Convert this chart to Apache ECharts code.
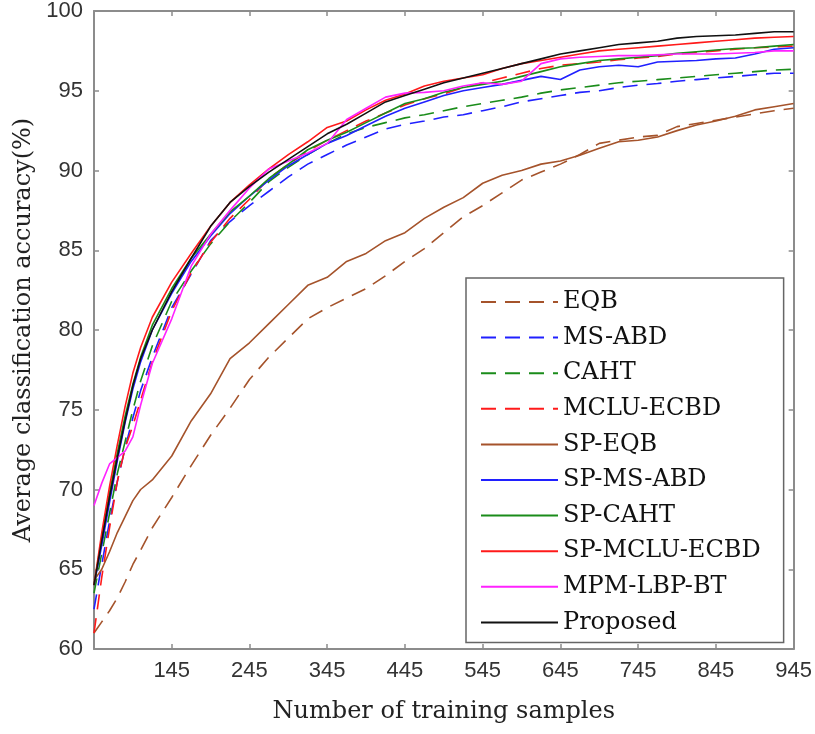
<!DOCTYPE html>
<html>
<head>
<meta charset="utf-8">
<title>Average classification accuracy</title>
<script src="https://cdn.jsdelivr.net/npm/echarts@6/dist/echarts.min.js"></script>
<style>
  html, body { margin: 0; padding: 0; background: #fff; }
  #main { width: 815px; height: 734px; }
</style>
</head>
<body>
<div id="main"></div>
<script>
// number of training samples
var samples = [45, 55, 65, 75, 85, 95, 105, 120, 145, 170, 195, 220, 245, 270, 295, 320, 345, 370, 395, 420,
               445, 470, 495, 520, 545, 570, 595, 620, 645, 670, 695, 720, 745, 770, 795, 820, 845, 870, 895, 920, 945];

var eqb = [61.0, 61.7, 62.4, 63.2, 64.2, 65.3, 66.2, 67.6, 69.5, 71.5, 73.4, 75.1, 76.9, 78.3, 79.5, 80.7, 81.4, 82.0, 82.6, 83.4,
           84.3, 85.1, 86.1, 87.1, 87.8, 88.6, 89.4, 89.9, 90.4, 91.0, 91.7, 91.9, 92.1, 92.2, 92.75, 92.95, 93.15, 93.35, 93.55, 93.75, 93.9];
var msAbd = [62.5, 65.3, 68.0, 70.5, 72.6, 74.5, 76.2, 78.3, 81.4, 83.5, 85.6, 86.8, 87.8, 88.7, 89.6, 90.4, 91.0, 91.6, 92.1, 92.6,
             92.9, 93.1, 93.35, 93.5, 93.75, 94.0, 94.3, 94.5, 94.7, 94.9, 95.0, 95.2, 95.35, 95.45, 95.6, 95.7, 95.8, 95.9, 96.0, 96.1, 96.1];
var caht = [63.5, 66.0, 68.5, 71.0, 73.0, 75.0, 76.8, 79.0, 81.8, 83.7, 85.4, 86.8, 88.0, 89.3, 90.2, 91.0, 91.7, 92.3, 92.7, 93.0,
            93.3, 93.5, 93.75, 94.0, 94.2, 94.4, 94.6, 94.85, 95.05, 95.2, 95.35, 95.5, 95.6, 95.7, 95.8, 95.9, 96.0, 96.1, 96.2, 96.3, 96.35];
var mcluEcbd = [61.0, 64.5, 67.6, 70.5, 72.6, 74.0, 75.6, 78.0, 81.2, 83.6, 85.5, 87.0, 88.2, 89.5, 90.4, 91.2, 91.9, 92.5, 93.1, 93.6,
                94.1, 94.5, 94.8, 95.2, 95.5, 95.8, 96.1, 96.4, 96.6, 96.7, 96.8, 96.95, 97.05, 97.15, 97.3, 97.4, 97.5, 97.6, 97.7, 97.75, 97.8];
var spEqb = [64.3, 65.0, 66.1, 67.3, 68.3, 69.3, 70.0, 70.6, 72.1, 74.3, 76.0, 78.2, 79.2, 80.4, 81.6, 82.8, 83.3, 84.3, 84.8, 85.6,
             86.1, 87.0, 87.7, 88.3, 89.2, 89.7, 90.0, 90.4, 90.6, 90.95, 91.4, 91.8, 91.9, 92.1, 92.5, 92.85, 93.1, 93.4, 93.8, 94.0, 94.2];
var spMsAbd = [64.0, 66.5, 69.2, 71.8, 74.2, 76.3, 78.0, 80.0, 82.3, 84.3, 85.9, 87.3, 88.4, 89.4, 90.3, 91.0, 91.7, 92.2, 92.8, 93.4,
               93.9, 94.3, 94.7, 95.0, 95.2, 95.4, 95.65, 95.9, 95.7, 96.3, 96.5, 96.6, 96.5, 96.8, 96.85, 96.9, 97.0, 97.05, 97.3, 97.6, 97.7];
var spCaht = [64.0, 67.0, 69.8, 72.3, 74.6, 76.6, 78.3, 80.3, 82.6, 84.5, 86.0, 87.4, 88.4, 89.5, 90.4, 91.3, 91.9, 92.4, 93.0, 93.6,
              94.2, 94.5, 94.9, 95.2, 95.4, 95.6, 95.9, 96.2, 96.5, 96.7, 96.9, 97.0, 97.1, 97.2, 97.35, 97.45, 97.55, 97.65, 97.7, 97.8, 97.9];
var spMcluEcbd = [64.0, 67.3, 70.2, 72.8, 75.2, 77.3, 78.9, 80.8, 83.0, 84.8, 86.5, 88.0, 89.1, 90.1, 91.0, 91.8, 92.7, 93.1, 93.8, 94.4,
                  94.8, 95.3, 95.6, 95.8, 96.0, 96.4, 96.7, 96.9, 97.1, 97.3, 97.5, 97.6, 97.7, 97.8, 97.9, 98.0, 98.1, 98.2, 98.3, 98.35, 98.4];
var mpmLbpBt = [69.0, 70.4, 71.6, 72.0, 72.4, 73.3, 75.3, 77.9, 80.7, 84.0, 86.0, 87.5, 88.9, 90.1, 90.6, 91.1, 91.7, 93.2, 93.9, 94.6,
                94.85, 94.9, 95.0, 95.3, 95.5, 95.4, 95.6, 96.7, 97.0, 97.1, 97.15, 97.2, 97.2, 97.25, 97.3, 97.3, 97.3, 97.35, 97.4, 97.5, 97.5];
var proposed = [64.0, 66.8, 69.5, 72.0, 74.3, 76.5, 78.2, 80.0, 82.4, 84.5, 86.5, 88.0, 89.0, 89.9, 90.7, 91.5, 92.3, 92.9, 93.6, 94.3,
                94.7, 95.1, 95.5, 95.8, 96.1, 96.4, 96.7, 97.0, 97.3, 97.5, 97.7, 97.9, 98.0, 98.1, 98.3, 98.4, 98.45, 98.5, 98.6, 98.7, 98.7];

var names = ['EQB', 'MS-ABD', 'CAHT', 'MCLU-ECBD', 'SP-EQB', 'SP-MS-ABD', 'SP-CAHT', 'SP-MCLU-ECBD', 'MPM-LBP-BT', 'Proposed'];
var values = [eqb, msAbd, caht, mcluEcbd, spEqb, spMsAbd, spCaht, spMcluEcbd, mpmLbpBt, proposed];
var colors = ['#a5532b', '#2020ff', '#1a8c1a', '#ff1a1a', '#a5532b', '#2020ff', '#1a8c1a', '#ff1a1a', '#ff22ff', '#111111'];
var dashed = [true, true, true, true, false, false, false, false, false, false];

var axisGray = '#8c8c8c';
var serif = '"DejaVu Serif", serif';
var sans = '"Liberation Sans", Arial, sans-serif';

var series = [];
for (var i = 0; i < names.length; i++) {
    var pts = [];
    for (var j = 0; j < samples.length; j++) {
        pts.push([samples[j], values[i][j]]);
    }
    series.push({
        name: names[i],
        type: 'line',
        data: pts,
        symbol: 'none',
        smooth: false,
        lineStyle: {
            color: colors[i],
            width: 1.6,
            type: dashed[i] ? [15, 9] : 'solid'
        },
        itemStyle: { color: colors[i] }
    });
}

var chart = echarts.init(document.getElementById('main'));
var option = {
    animation: false,
    backgroundColor: '#fff',
    grid: { left: 94, right: 21, top: 10, bottom: 85, containLabel: false },
    legend: {
        orient: 'vertical',
        left: 466,
        top: 278,
        data: names,
        itemWidth: 77,
        itemHeight: 14,
        itemGap: 11.6,
        padding: [12, 23, 8, 14],
        backgroundColor: '#fff',
        borderColor: '#666',
        borderWidth: 1.5,
        selectedMode: false,
        itemStyle: { opacity: 0 },
        lineStyle: { width: 2 },
        textStyle: { fontFamily: serif, fontSize: 24, color: '#111', lineHeight: 24 }
    },
    xAxis: [{
        type: 'value',
        min: 45,
        max: 945,
        interval: 100,
        name: 'Number of training samples',
        nameLocation: 'middle',
        nameGap: 51,
        nameTextStyle: { fontFamily: serif, fontSize: 24, color: '#222' },
        axisLine: { show: true, lineStyle: { color: axisGray, width: 2 } },
        axisTick: { show: true, inside: true, length: 5, lineStyle: { color: axisGray, width: 1.5 } },
        axisLabel: {
            fontFamily: sans, fontSize: 22, color: '#333', margin: 11,
            formatter: function (v) { return v === 45 ? '' : String(v); }
        },
        splitLine: { show: false }
    }, {
        type: 'value',
        position: 'top',
        min: 45,
        max: 945,
        interval: 100,
        axisLine: { show: true, lineStyle: { color: axisGray, width: 2 } },
        axisTick: { show: true, inside: true, length: 5, lineStyle: { color: axisGray, width: 1.5 } },
        axisLabel: { show: false },
        splitLine: { show: false }
    }],
    yAxis: [{
        type: 'value',
        min: 60,
        max: 100,
        interval: 5,
        name: 'Average classification accuracy(%)',
        nameLocation: 'middle',
        nameGap: 54,
        nameTextStyle: { fontFamily: serif, fontSize: 24, color: '#222' },
        axisLine: { show: true, lineStyle: { color: axisGray, width: 2 } },
        axisTick: { show: true, inside: true, length: 5, lineStyle: { color: axisGray, width: 1.5 } },
        axisLabel: { fontFamily: sans, fontSize: 22, color: '#333', margin: 11 },
        splitLine: { show: false }
    }, {
        type: 'value',
        position: 'right',
        min: 60,
        max: 100,
        interval: 5,
        axisLine: { show: true, lineStyle: { color: axisGray, width: 2 } },
        axisTick: { show: true, inside: true, length: 5, lineStyle: { color: axisGray, width: 1.5 } },
        axisLabel: { show: false },
        splitLine: { show: false }
    }],
    series: series
};
chart.setOption(option);
</script>
</body>
</html>
